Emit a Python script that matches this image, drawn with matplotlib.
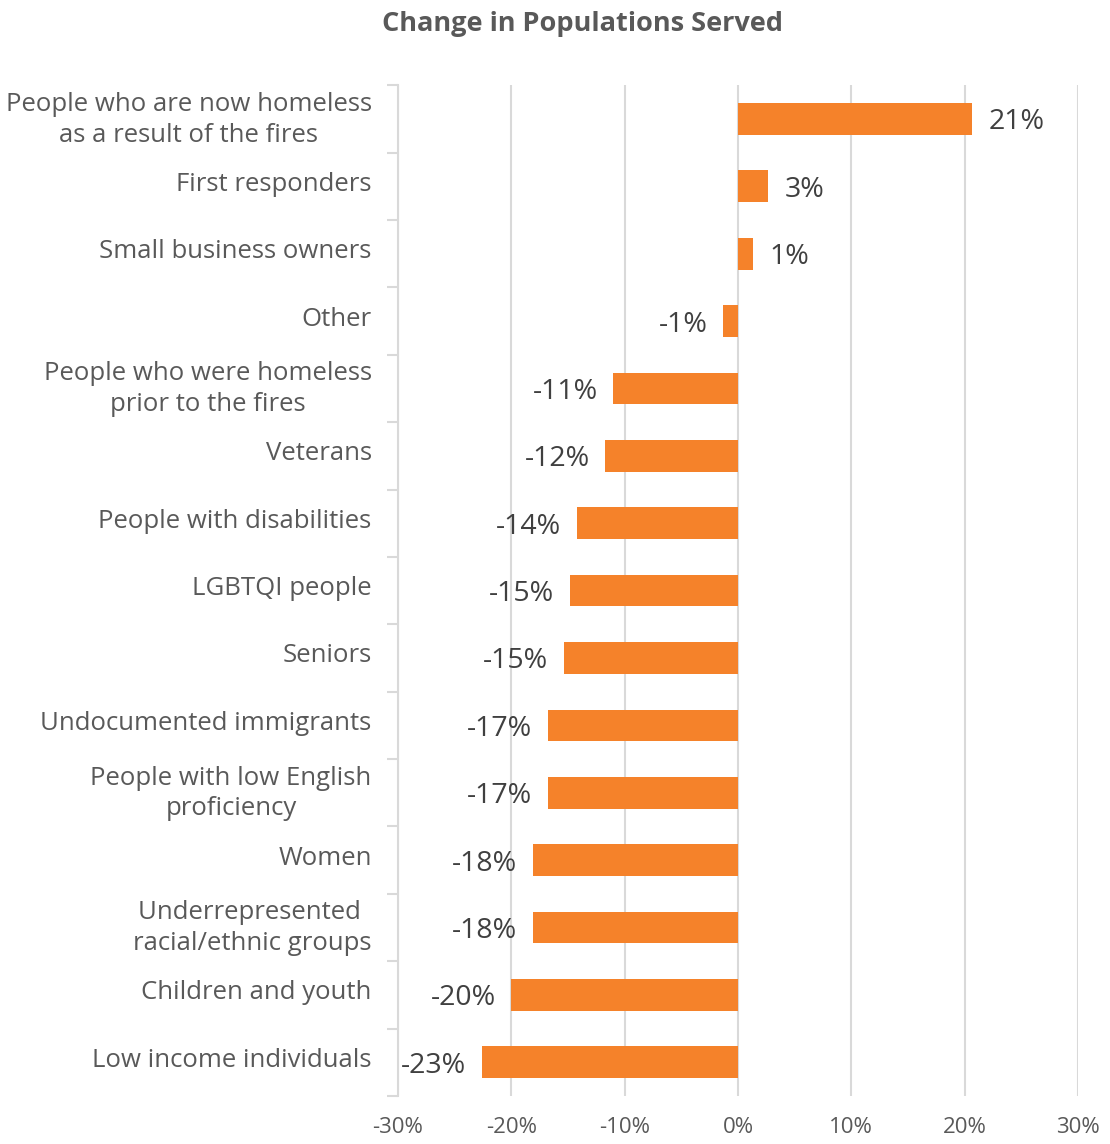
import numpy as np
import matplotlib.pyplot as plt
import matplotlib.transforms as mtransforms
from matplotlib.ticker import FuncFormatter, FixedLocator

# categorias de arriba hacia abajo
categorias = [
    'People who are now homeless\nas a result of the fires',
    'First responders',
    'Small business owners',
    'Other',
    'People who were homeless\nprior to the fires',
    'Veterans',
    'People with disabilities',
    'LGBTQI people',
    'Seniors',
    'Undocumented immigrants',
    'People with low English\nproficiency',
    'Women',
    'Underrepresented \nracial/ethnic groups',
    'Children and youth',
    'Low income individuals',
]
cambio = [20.6, 2.6, 1.3, -1.3, -11.0, -11.7, -14.2, -14.8, -15.4,
          -16.8, -16.8, -18.1, -18.1, -20.0, -22.6]
etiquetas = ['21%', '3%', '1%', '-1%', '-11%', '-12%', '-14%', '-15%', '-15%',
             '-17%', '-17%', '-18%', '-18%', '-20%', '-23%']
ticks_x = [-30, -20, -10, 0, 10, 20, 30]

NARANJA = '#F5822A'
GRIS_TEXTO = '#404040'
GRIS_LINEA = '#D9D9D9'

plt.rcParams['font.family'] = ['Open Sans', 'DejaVu Sans']

fig = plt.figure(figsize=(11.1, 11.44), dpi=100)
ax = fig.add_axes([0.3586, 0.042, 0.6126, 0.8835])

y = np.arange(len(categorias))
ax.barh(y, cambio, height=0.47, color=NARANJA, zorder=3)
ax.set_ylim(len(categorias) - 0.5, -0.5)
ax.set_xlim(-30, 30)

# etiquetas de datos
for yi, v, txt in zip(y, cambio, etiquetas):
    if v >= 0:
        ax.text(v + 1.5, yi, txt, ha='left', va='center_baseline', fontsize=20.5, color=GRIS_TEXTO)
    else:
        ax.text(v - 1.4, yi, txt, ha='right', va='center_baseline', fontsize=20.5, color=GRIS_TEXTO)

ax.set_xticks(ticks_x)
ax.xaxis.set_major_formatter(FuncFormatter(lambda v, p: f'{v:.0f}%'))
ax.tick_params(axis='x', length=0, labelsize=16, colors='#595959', pad=15)
ax.grid(axis='x', color=GRIS_LINEA, linewidth=1.5, zorder=0)

ax.set_yticks(y)
ax.set_yticklabels(categorias, fontsize=18.5, color='#595959', linespacing=1.3)
ax.yaxis.set_minor_locator(FixedLocator(np.arange(-0.5, len(categorias), 1)))
ax.tick_params(axis='y', which='major', length=0, pad=19)
ax.tick_params(axis='y', which='minor', length=8, color=GRIS_LINEA, width=1.5)

# subir un poco las etiquetas de categoria y centrar las de dos lineas
desplazamiento = mtransforms.ScaledTranslation(0, 5 / 100, fig.dpi_scale_trans)
for lbl in ax.get_yticklabels():
    lbl.set_transform(lbl.get_transform() + desplazamiento)
    lbl.set_multialignment('center')

for lado in ['top', 'right', 'bottom']:
    ax.spines[lado].set_visible(False)
ax.spines['left'].set_color(GRIS_LINEA)
ax.spines['left'].set_linewidth(1.5)

fig.text(0.525, 0.979, 'Change in Populations Served', ha='center', va='center',
         fontsize=19.5, fontweight='bold', color='#595959')

plt.savefig('out.png')
